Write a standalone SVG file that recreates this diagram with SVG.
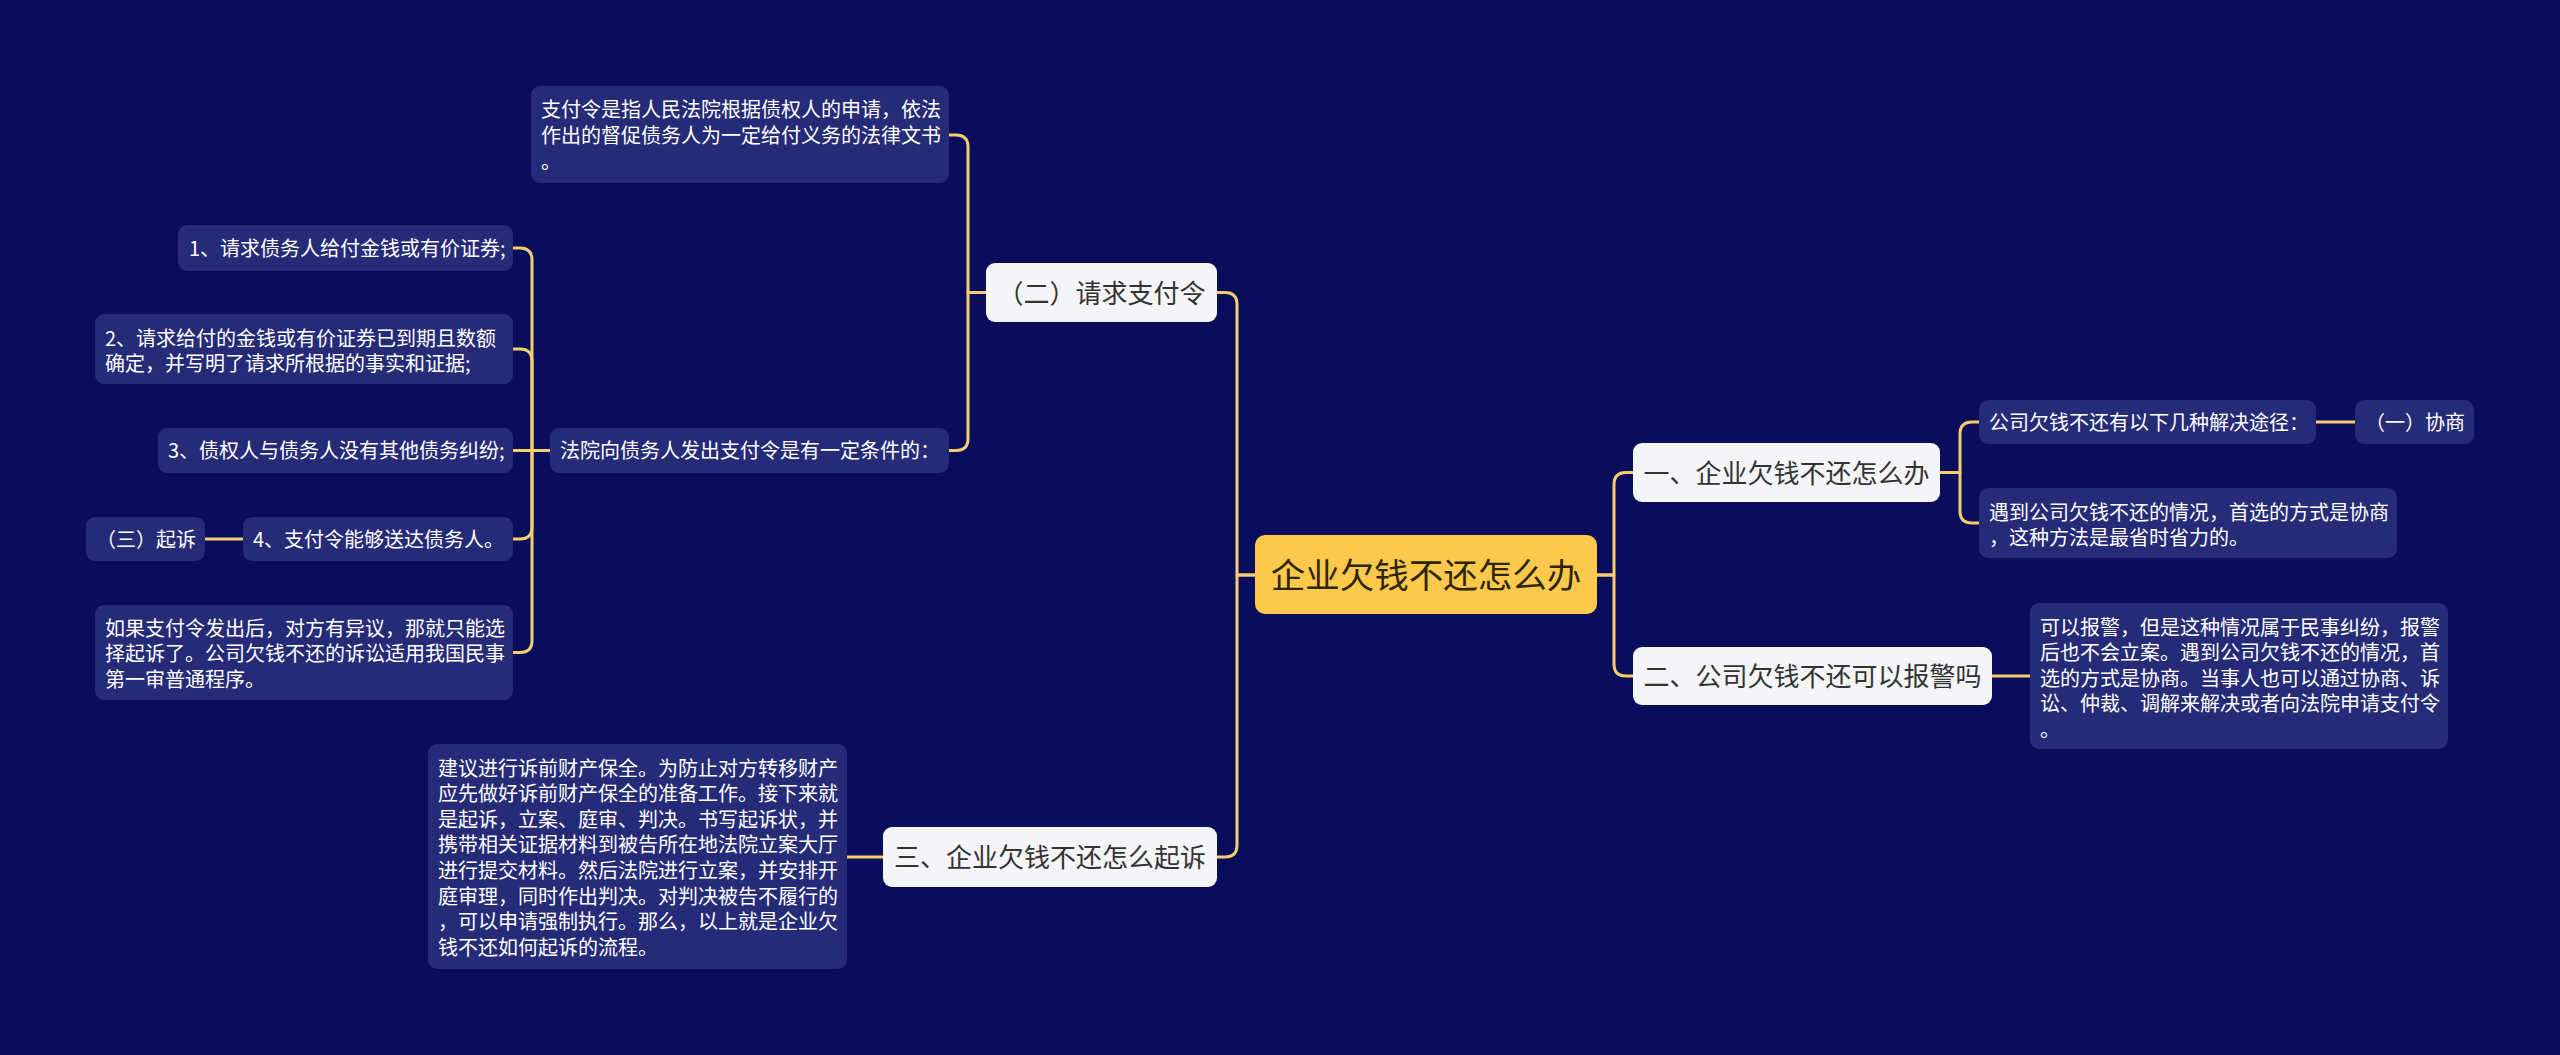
<svg xmlns="http://www.w3.org/2000/svg" width="2560" height="1055" viewBox="0 0 2560 1055">
<style>
text{font-family:"Noto Sans CJK SC","Noto Sans",sans-serif;}
.bg{fill:#0a0d5c;}
.root rect{fill:#fcc94c;}
.root text{font-size:34.5px;fill:#2e2608;text-anchor:middle;}
.l1 rect{fill:#f5f5f7;}
.l1 text{font-size:26px;fill:#333333;text-anchor:middle;}
.l2 rect{fill:#262b78;}
.l2 text{font-size:20px;fill:#ffffff;}
.conn path{fill:none;stroke:#f6cd6c;stroke-width:3;stroke-linecap:round;stroke-linejoin:round;}
</style>
<rect class="bg" x="0" y="0" width="2560" height="1055"/>
<g id="connectors" class="conn">
<path d="M1255,575 H1237 V304.5 Q1237,292.5 1225,292.5 H1217"/>
<path d="M1255,575 H1237 V845 Q1237,857 1225,857 H1217"/>
<path d="M986,292.5 H968 V147 Q968,135 956,135 H949"/>
<path d="M986,292.5 H968 V438.5 Q968,450.5 956,450.5 H949"/>
<path d="M550,450.5 H532 V260 Q532,248 520,248 H513"/>
<path d="M550,450.5 H532 V361 Q532,349 520,349 H513"/>
<path d="M550,450.5 H513"/>
<path d="M550,450.5 H532 V527 Q532,539 520,539 H513"/>
<path d="M550,450.5 H532 V640.5 Q532,652.5 520,652.5 H513"/>
<path d="M243,539 H205"/>
<path d="M883,857 H847"/>
<path d="M1597,575 H1614 V484.5 Q1614,472.5 1626,472.5 H1633"/>
<path d="M1597,575 H1614 V664 Q1614,676 1626,676 H1633"/>
<path d="M1940,472.5 H1960 V434 Q1960,422 1972,422 H1979"/>
<path d="M1940,472.5 H1960 V511 Q1960,523 1972,523 H1979"/>
<path d="M2316,422 H2355"/>
<path d="M1992,676 H2030"/>
</g>
<g id="root" class="root"><rect x="1255" y="535" width="342" height="79" rx="10"/><text x="1426" y="588">企业欠钱不还怎么办</text></g>
<g id="n-zhifuling" class="l1"><rect x="986" y="263" width="231" height="59" rx="9"/><text x="1101.5" y="302.5">（二）请求支付令</text></g>
<g id="n-qisu3" class="l1"><rect x="883" y="827" width="334" height="60" rx="9"/><text x="1050" y="867">三、企业欠钱不还怎么起诉</text></g>
<g id="n-yi" class="l1"><rect x="1633" y="443" width="307" height="59" rx="9"/><text x="1786.5" y="482.5">一、企业欠钱不还怎么办</text></g>
<g id="n-er" class="l1"><rect x="1633" y="647" width="359" height="58" rx="9"/><text x="1812.5" y="686">二、公司欠钱不还可以报警吗</text></g>
<g id="n-def" class="l2"><rect x="531" y="86" width="418" height="97" rx="9"/><text x="541" y="116.5">支付令是指人民法院根据债权人的申请，依法</text><text x="541" y="142.5">作出的督促债务人为一定给付义务的法律文书</text><text x="541" y="168.5">。</text></g>
<g id="n-cond" class="l2"><rect x="550" y="428" width="399" height="45" rx="9"/><text x="560" y="458">法院向债务人发出支付令是有一定条件的：</text></g>
<g id="n-c1" class="l2"><rect x="178" y="225" width="335" height="46" rx="9"/><text x="189" y="255.5">1、请求债务人给付金钱或有价证券;</text></g>
<g id="n-c2" class="l2"><rect x="95" y="314" width="418" height="70" rx="9"/><text x="105" y="345.5">2、请求给付的金钱或有价证券已到期且数额</text><text x="105" y="370.5">确定，并写明了请求所根据的事实和证据;</text></g>
<g id="n-c3" class="l2"><rect x="158" y="428" width="355" height="45" rx="9"/><text x="168" y="458">3、债权人与债务人没有其他债务纠纷;</text></g>
<g id="n-c4" class="l2"><rect x="243" y="517" width="270" height="44" rx="9"/><text x="253" y="546.5">4、支付令能够送达债务人。</text></g>
<g id="n-san" class="l2"><rect x="86" y="517" width="119" height="44" rx="9"/><text x="96" y="546.5">（三）起诉</text></g>
<g id="n-objection" class="l2"><rect x="95" y="605" width="418" height="95" rx="9"/><text x="105" y="635.5">如果支付令发出后，对方有异议，那就只能选</text><text x="105" y="661">择起诉了。公司欠钱不还的诉讼适用我国民事</text><text x="105" y="686.5">第一审普通程序。</text></g>
<g id="n-suit" class="l2"><rect x="428" y="744" width="419" height="225" rx="9"/>
<text x="438" y="775.5">建议进行诉前财产保全。为防止对方转移财产</text>
<text x="438" y="801.1">应先做好诉前财产保全的准备工作。接下来就</text>
<text x="438" y="826.7">是起诉，立案、庭审、判决。书写起诉状，并</text>
<text x="438" y="852.3">携带相关证据材料到被告所在地法院立案大厅</text>
<text x="438" y="877.9">进行提交材料。然后法院进行立案，并安排开</text>
<text x="438" y="903.5">庭审理，同时作出判决。对判决被告不履行的</text>
<text x="438" y="929.1">，可以申请强制执行。那么，以上就是企业欠</text>
<text x="438" y="954.7">钱不还如何起诉的流程。</text></g>
<g id="n-ways" class="l2"><rect x="1979" y="400" width="337" height="44" rx="9"/><text x="1989" y="429.5">公司欠钱不还有以下几种解决途径：</text></g>
<g id="n-xieshang" class="l2"><rect x="2355" y="400" width="119" height="44" rx="9"/><text x="2365" y="429.5">（一）协商</text></g>
<g id="n-first" class="l2"><rect x="1979" y="488" width="418" height="70" rx="9"/><text x="1989" y="519.5">遇到公司欠钱不还的情况，首选的方式是协商</text><text x="1989" y="544.5">，这种方法是最省时省力的。</text></g>
<g id="n-police" class="l2"><rect x="2030" y="603" width="418" height="146" rx="9"/>
<text x="2040" y="634.5">可以报警，但是这种情况属于民事纠纷，报警</text>
<text x="2040" y="660">后也不会立案。遇到公司欠钱不还的情况，首</text>
<text x="2040" y="685.5">选的方式是协商。当事人也可以通过协商、诉</text>
<text x="2040" y="711">讼、仲裁、调解来解决或者向法院申请支付令</text>
<text x="2040" y="736.5">。</text></g>
</svg>
